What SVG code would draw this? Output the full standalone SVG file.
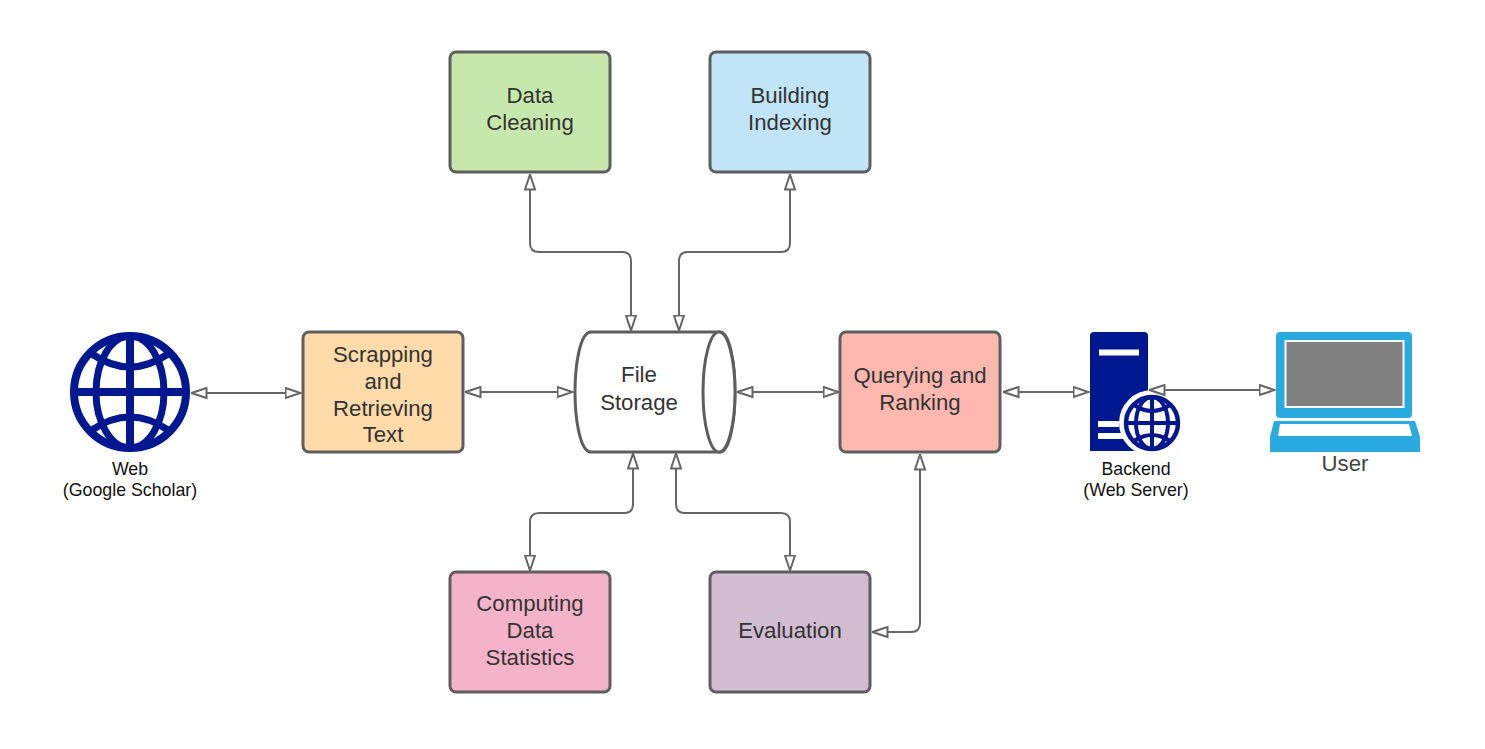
<svg xmlns="http://www.w3.org/2000/svg" width="1485" height="749" viewBox="0 0 1485 749">
<style>
text{font-family:"Liberation Sans",Arial,sans-serif;text-anchor:middle;fill:#333}
.n{font-size:22.2px}
.s{font-size:17.8px;fill:#111}
.b{stroke:#5e5e5e;stroke-width:3;}
.c{fill:none;stroke:#666;stroke-width:2;marker-start:url(#a);marker-end:url(#a)}
.g{fill:none;stroke:#00188f}
</style>
<defs>
<marker id="a" viewBox="0 0 17 13" markerUnits="userSpaceOnUse" markerWidth="17" markerHeight="13" refX="15.500" refY="6.500" orient="auto-start-reverse"><path d="M1 1.500L16 6.500L1 11.500Z" fill="#fff" stroke="#666" stroke-width="2"/></marker>
</defs>
<rect width="1485" height="749" fill="#fff"/>
<g id="web">
<circle class="g" cx="130" cy="392" r="56" stroke-width="8"/>
<path class="g" stroke-width="8" d="M130 338V446M76 392H184"/>
<ellipse class="g" cx="130" cy="392" rx="34" ry="56" stroke-width="7"/>
<path class="g" stroke-width="7" d="M92 354Q130 380 168 354M92 430Q130 404 168 430"/>
<text class="s" x="130" y="475">Web</text><text class="s" x="130" y="496">(Google Scholar)</text>
</g>
<g id="scrapping">
<rect class="b" x="303" y="332" width="160" height="120" rx="6" fill="#ffdba9"/>
<text class="n" x="383" y="362">Scrapping</text><text class="n" x="383" y="389">and</text><text class="n" x="383" y="416">Retrieving</text><text class="n" x="383" y="442">Text</text>
</g>
<g id="storage">
<path class="b" fill="#fff" stroke-width="3" d="M591 332H720C730 332 735 365 735 392C735 419 730 452 720 452H591C580 452 575 419 575 392C575 365 580 332 591 332Z"/>
<ellipse class="b" cx="719" cy="392" rx="16" ry="60" fill="#fff"/>
<text class="n" x="639" y="382">File</text><text class="n" x="639" y="410">Storage</text>
</g>
<g id="querying">
<rect class="b" x="840" y="332" width="160" height="120" rx="6" fill="#ffb8b0"/>
<text class="n" x="920" y="383">Querying and</text><text class="n" x="920" y="410">Ranking</text>
</g>
<g id="cleaning">
<rect class="b" x="450" y="52" width="160" height="120" rx="6" fill="#c7e8ac"/>
<text class="n" x="530" y="103">Data</text><text class="n" x="530" y="130">Cleaning</text>
</g>
<g id="indexing">
<rect class="b" x="710" y="52" width="160" height="120" rx="6" fill="#c1e4f7"/>
<text class="n" x="790" y="103">Building</text><text class="n" x="790" y="130">Indexing</text>
</g>
<g id="statistics">
<rect class="b" x="450" y="572" width="160" height="120" rx="6" fill="#f5b3c9"/>
<text class="n" x="530" y="611">Computing</text><text class="n" x="530" y="638">Data</text><text class="n" x="530" y="665">Statistics</text>
</g>
<g id="evaluation">
<rect class="b" x="710" y="572" width="160" height="120" rx="6" fill="#d1bcd2"/>
<text class="n" x="790" y="638">Evaluation</text>
</g>
<g id="backend">
<path fill="#00188f" d="M1090 336Q1090 332 1094 332H1144Q1148 332 1148 336V451H1090Z"/>
<path fill="#fff" d="M1099 349.500H1139V355.500H1099ZM1098 421H1119V427H1098ZM1098 433H1125V439H1098Z"/>
<circle cx="1152" cy="423" r="33" fill="#fff"/>
<circle class="g" cx="1152" cy="423" r="26" stroke-width="4.500"/>
<ellipse class="g" cx="1152" cy="423" rx="16" ry="26" stroke-width="4"/>
<path class="g" stroke-width="4" d="M1152 397V449M1126 423H1178"/>
<path class="g" stroke-width="4" d="M1134 405Q1152 417 1170 405M1134 441Q1152 429 1170 441"/>
<text class="s" x="1136" y="475">Backend</text><text class="s" x="1136" y="496">(Web Server)</text>
</g>
<g id="user">
<rect x="1276" y="332" width="136" height="86" rx="4" fill="#29abe2"/>
<rect x="1285.500" y="341" width="118" height="66" fill="#808080" stroke="#fff" stroke-width="2"/>
<path fill="#29abe2" d="M1274 421H1415L1420 437V452H1270V437Z"/>
<path fill="#fff" d="M1280 424H1409L1412 436H1278Z"/>
<text class="n" x="1345" y="471" style="fill:#444">User</text>
</g>
<g id="connectors">
<path class="c" d="M192 393H300"/>
<path class="c" d="M466 392H572"/>
<path class="c" d="M738 392H838"/>
<path class="c" d="M1004 392H1088"/>
<path class="c" d="M1150 390H1274"/>
<path class="c" d="M530 175V243Q530 252 539 252H622Q631 252 631 261V330"/>
<path class="c" d="M790 175V243Q790 252 781 252H688Q679 252 679 261V330"/>
<path class="c" d="M633 454V504Q633 513 624 513H539Q530 513 530 522V570"/>
<path class="c" d="M676 454V504Q676 513 685 513H781Q790 513 790 522V570"/>
<path class="c" d="M920 455V623Q920 632 911 632H873"/>
</g>
</svg>
